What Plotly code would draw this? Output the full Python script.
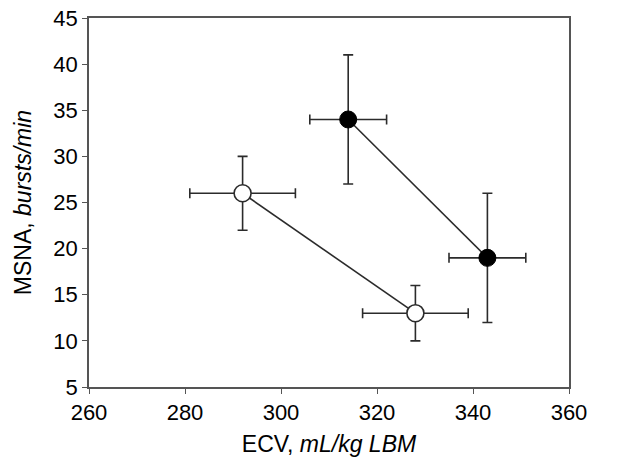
import plotly.graph_objects as go

# closed symbols
closed_x = [314, 343]
closed_y = [34, 19]
closed_xerr = [8, 8]
closed_yerr = [7, 7]

# open symbols
open_x = [292, 328]
open_y = [26, 13]
open_xerr = [11, 11]
open_yerr = [4, 3]

x_ticks = [260, 280, 300, 320, 340, 360]
y_ticks = [5, 10, 15, 20, 25, 30, 35, 40, 45]

ink = "#2b2b2b"
font_family = "Liberation Sans, Arial, sans-serif"


def err(arr):
    return dict(type="data", array=arr, visible=True, color=ink, thickness=1.6, width=5)


fig = go.Figure()
fig.add_trace(go.Scatter(
    x=open_x, y=open_y, mode="lines+markers",
    error_x=err(open_xerr), error_y=err(open_yerr),
    line=dict(color=ink, width=1.6),
    marker=dict(symbol="circle", size=17, color="white", line=dict(color=ink, width=1.6)),
    showlegend=False,
))
fig.add_trace(go.Scatter(
    x=closed_x, y=closed_y, mode="lines+markers",
    error_x=err(closed_xerr), error_y=err(closed_yerr),
    line=dict(color=ink, width=1.6),
    marker=dict(symbol="circle", size=17, color="black", line=dict(color="black", width=1)),
    showlegend=False,
))

axis_common = dict(
    showgrid=False, zeroline=False,
    showline=True, linecolor="#555555", linewidth=1.5, mirror=True,
    ticks="outside", ticklen=5, tickwidth=1.2, tickcolor="#555555",
    tickfont=dict(family=font_family, size=22, color="black"),
    ticklabeloverflow="allow",
)

fig.update_xaxes(
    range=[260, 360], tickvals=x_ticks,
    title=dict(text="ECV, <i>mL/kg LBM</i>", standoff=13,
               font=dict(family=font_family, size=23, color="black")),
    **axis_common,
)
fig.update_yaxes(
    range=[5, 45], tickvals=y_ticks,
    title=dict(text="MSNA, <i>bursts/min</i>", standoff=15,
               font=dict(family=font_family, size=23, color="black")),
    **axis_common,
)

fig.update_layout(
    width=617, height=457,
    margin=dict(l=89, r=48, t=18, b=70, autoexpand=False),
    plot_bgcolor="white", paper_bgcolor="white",
)

# drop the default 8px page margin so the figure sits at the window's corner
fig.write_html(
    "out.html",
    config={"displayModeBar": False},
    post_script="document.body.style.margin = '0';",
)
